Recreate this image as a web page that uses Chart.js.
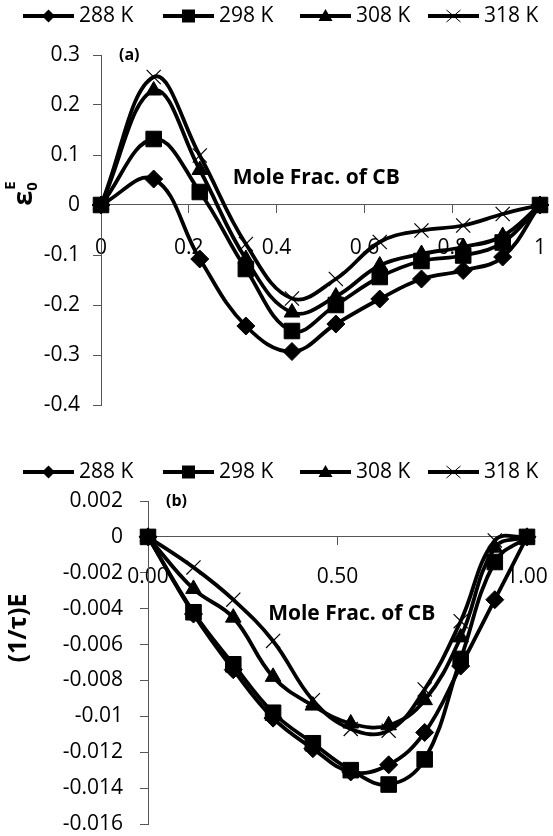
<!DOCTYPE html>
<html lang="en">
<head>
<meta charset="UTF-8">
<title>Excess properties vs mole fraction of CB</title>
<script src="https://cdn.jsdelivr.net/npm/chart.js"></script>
<style>
  body { margin: 0; background: #fff; }
  #boxA { position: absolute; left: 0; top: 0; width: 553px; height: 420px; }
  #boxB { position: absolute; left: 0; top: 420px; width: 553px; height: 416px; }
</style>
</head>
<body>
<div id="boxA"><canvas id="chartA"></canvas></div>
<div id="boxB"><canvas id="chartB"></canvas></div>

<script>
const seriesNames = ['288 K', '298 K', '308 K', '318 K'];
const moleFrac = [0, 0.12, 0.225, 0.33, 0.435, 0.535, 0.635, 0.73, 0.825, 0.915, 1];

// (a) excess static permittivity
const eps288 = [0, 0.052, -0.108, -0.242, -0.293, -0.238, -0.188, -0.148, -0.131, -0.104, 0];
const eps298 = [0, 0.132, 0.026, -0.128, -0.252, -0.200, -0.144, -0.112, -0.101, -0.075, 0];
const eps308 = [0, 0.229, 0.070, -0.108, -0.215, -0.183, -0.121, -0.098, -0.084, -0.062, 0];
const eps318 = [0, 0.256, 0.099, -0.078, -0.187, -0.148, -0.074, -0.051, -0.041, -0.018, 0];

// (b) excess inverse relaxation time
const rel288 = [0, -0.0043, -0.0074, -0.0101, -0.0118, -0.0131, -0.0127, -0.0109, -0.0072, -0.0035, 0];
const rel298 = [0, -0.0042, -0.0071, -0.0098, -0.0115, -0.0130, -0.0138, -0.0124, -0.0068, -0.0014, 0];
const rel308 = [0, -0.0029, -0.0045, -0.0078, -0.0094, -0.0104, -0.0105, -0.0091, -0.0056, -0.0006, 0];
const rel318 = [0, -0.0017, -0.0035, -0.0058, -0.0091, -0.0107, -0.0108, -0.0085, -0.0047, -0.0002, 0];

const xTicksA = [0, 0.2, 0.4, 0.6, 0.8, 1];
const yTicksA = [0.3, 0.2, 0.1, 0, -0.1, -0.2, -0.3, -0.4];
const xTicksB = [0, 0.5, 1];
const yTicksB = [0.002, 0, -0.002, -0.004, -0.006, -0.008, -0.01, -0.012, -0.014, -0.016];

const markerStyles = ['rectRot', 'rect', 'triangle', 'crossRot'];
const markerSizes = [9, 11, 9, 10];
const FONT = '"Open Sans", "Liberation Sans", sans-serif';
const AXIS = '#555';
const legendLeft = [23, 163, 300, 428];   // where each legend sample line starts

function fmt(v) {
  return String(Math.round(v * 100000) / 100000);
}

// legend sample: short thick line with the series marker in the middle
function drawSample(ctx, style, x, y) {
  ctx.strokeStyle = '#000'; ctx.fillStyle = '#000';
  ctx.lineWidth = 4;
  ctx.beginPath(); ctx.moveTo(x, y); ctx.lineTo(x + 51, y); ctx.stroke();
  const cx = x + 25.5;
  ctx.beginPath();
  if (style == 'rectRot') {
    ctx.moveTo(cx, y - 6.5); ctx.lineTo(cx + 6.5, y); ctx.lineTo(cx, y + 6.5); ctx.lineTo(cx - 6.5, y); ctx.closePath(); ctx.fill();
  } else if (style == 'rect') {
    ctx.fillRect(cx - 6.5, y - 6.5, 13, 13);
  } else if (style == 'triangle') {
    ctx.moveTo(cx, y - 7); ctx.lineTo(cx + 7, y + 5); ctx.lineTo(cx - 7, y + 5); ctx.closePath(); ctx.fill();
  } else {
    ctx.lineWidth = 1;
    ctx.moveTo(cx - 7, y - 6); ctx.lineTo(cx + 7, y + 6);
    ctx.moveTo(cx + 7, y - 6); ctx.lineTo(cx - 7, y + 6); ctx.stroke();
  }
}

function makeDatasets(lists) {
  return lists.map((vals, i) => ({
    label: seriesNames[i],
    data: moleFrac.map((x, j) => ({ x: x, y: vals[j] })),
    borderColor: '#000',
    backgroundColor: '#000',
    borderWidth: 3.8,
    tension: 0.4,
    pointStyle: markerStyles[i],
    pointRadius: markerSizes[i],
    pointBorderWidth: markerStyles[i] == 'crossRot' ? 1.2 : 1,
    pointBackgroundColor: '#000',
    pointBorderColor: '#000',
    clip: false
  }));
}

function makeChart(id, lists, c) {
  const notes = {
    id: 'notes_' + id,
    afterDatasetsDraw(chart) {
      const ctx = chart.ctx;
      const xs = chart.scales.x, ys = chart.scales.y, area = chart.chartArea;
      ctx.save();
      // legend
      chart.data.datasets.forEach((ds, i) => {
        drawSample(ctx, markerStyles[i], legendLeft[i], c.legendY);
        ctx.fillStyle = '#000';
        ctx.textBaseline = 'middle';
        ctx.textAlign = 'left';
        ctx.font = '21px ' + FONT;
        ctx.fillText(ds.label, legendLeft[i] + 56, c.legendY);
      });
      ctx.fillStyle = '#000';
      ctx.textBaseline = 'middle';
      ctx.textAlign = 'left';
      ctx.font = 'bold 16px ' + FONT;
      ctx.fillText(c.tag, area.left + 18, area.top);
      ctx.font = 'bold 21px ' + FONT;
      ctx.fillText('Mole Frac. of CB', xs.getPixelForValue(c.noteAt[0]), ys.getPixelForValue(c.noteAt[1]));
      c.drawTitle(ctx);
      ctx.restore();
    }
  };

  return new Chart(document.getElementById(id), {
    type: 'line',
    data: { datasets: makeDatasets(lists) },
    plugins: [notes],
    options: {
      responsive: true,
      maintainAspectRatio: false,
      animation: false,
      layout: { padding: 0 },
      plugins: {
        tooltip: { enabled: false },
        legend: { display: false }
      },
      scales: {
        x: {
          type: 'linear',
          position: { y: 0 },
          min: 0, max: 1,
          afterBuildTicks: s => { s.ticks = c.xTicks.map(v => ({ value: v })); },
          afterFit: s => { s.paddingRight = c.areaRight; },
          ticks: {
            color: '#000',
            padding: c.xPad,
            font: { family: FONT, size: 21 },
            maxRotation: 0,
            callback: c.xFmt
          },
          grid: { drawOnChartArea: false, drawTicks: true, tickLength: 8, color: AXIS },
          border: { color: AXIS, width: 1 }
        },
        y: {
          type: 'linear',
          min: c.yMin, max: c.yMax,
          afterBuildTicks: s => { s.ticks = c.yTicks.map(v => ({ value: v })); },
          afterFit: s => {
            s.width = c.yWidth;
            s.paddingTop = c.areaTop;
            s.paddingBottom = c.areaBottom;
          },
          ticks: {
            color: '#000',
            padding: c.yPad,
            font: { family: FONT, size: 21 },
            callback: v => fmt(v)
          },
          grid: { drawOnChartArea: false, drawTicks: true, tickLength: 8, color: AXIS },
          border: { color: AXIS, width: 1 }
        }
      }
    }
  });
}

makeChart('chartA', [eps288, eps298, eps308, eps318], {
  tag: '(a)',
  xTicks: xTicksA, yTicks: yTicksA,
  yMin: -0.4, yMax: 0.3,
  xFmt: v => fmt(v),
  legendY: 16,
  yWidth: 101, areaTop: 55, areaRight: 13, areaBottom: 15,
  xPad: 22, yPad: 13,
  noteAt: [0.3, 0.054],
  drawTitle(ctx) {
    ctx.translate(23, 193);
    ctx.rotate(-Math.PI / 2);
    ctx.textBaseline = 'alphabetic';
    ctx.font = 'bold 27px ' + FONT;
    const w1 = ctx.measureText('ε').width;
    ctx.font = 'bold 15px ' + FONT;
    const w2 = ctx.measureText('0').width;
    const x0 = -(w1 + w2 + 2) / 2;
    ctx.font = 'bold 27px ' + FONT;
    ctx.fillText('ε', x0, 9);
    ctx.font = 'bold 15px ' + FONT;
    ctx.fillText('0', x0 + w1, 14);
    ctx.fillText('E', x0 + w1 + 1, -8);
  }
});

makeChart('chartB', [rel288, rel298, rel308, rel318], {
  tag: '(b)',
  xTicks: xTicksB, yTicks: yTicksB,
  yMin: -0.016, yMax: 0.002,
  xFmt: v => v.toFixed(2),
  legendY: 52,
  yWidth: 148, areaTop: 81, areaRight: 26, areaBottom: 7,
  xPad: 20, yPad: 17,
  noteAt: [0.317, -0.0043],
  drawTitle(ctx) {
    ctx.translate(19, 208);
    ctx.rotate(-Math.PI / 2);
    ctx.textAlign = 'center';
    ctx.font = 'bold 25px ' + FONT;
    ctx.fillText('(1/τ)E', 0, 0);
  }
});
</script>
</body>
</html>
